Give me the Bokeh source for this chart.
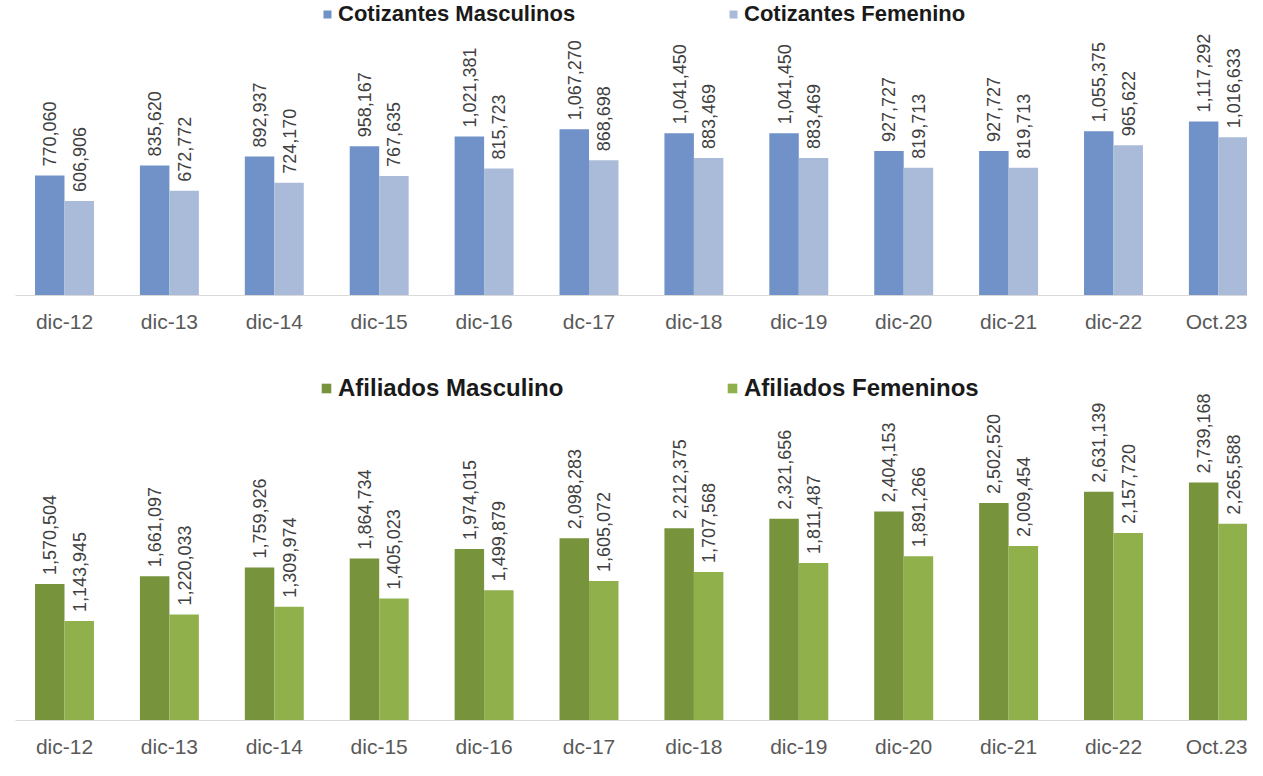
import math
from bokeh.plotting import figure
from bokeh.models import (ColumnDataSource, Range1d, FixedTicker, Legend, LegendItem)
from bokeh.transform import dodge
from bokeh.core.properties import value
from bokeh.layouts import column
from bokeh.embed import file_html
from bokeh.resources import INLINE

# ---------------- data ----------------
categories = ["dic-12", "dic-13", "dic-14", "dic-15", "dic-16", "dc-17",
              "dic-18", "dic-19", "dic-20", "dic-21", "dic-22", "Oct.23"]
cotizantes_masculinos = [770060, 835620, 892937, 958167, 1021381, 1067270,
                         1041450, 1041450, 927727, 927727, 1055375, 1117292]
cotizantes_femenino = [606906, 672772, 724170, 767635, 815723, 868698,
                       883469, 883469, 819713, 819713, 965622, 1016633]
afiliados_masculino = [1570504, 1661097, 1759926, 1864734, 1974015, 2098283,
                       2212375, 2321656, 2404153, 2502520, 2631139, 2739168]
afiliados_femeninos = [1143945, 1220033, 1309974, 1405023, 1499879, 1605072,
                       1707568, 1811487, 1891266, 2009454, 2157720, 2265588]

# ---------------- styling ----------------
FONT = "Liberation Sans"
W = 1247
LEFT = 15
BAR_W = 0.281
OFF = 0.1405
X0, X1 = -0.4671, 11.2774


def make_panel(m_vals, f_vals, m_lab, f_lab, m_col, f_col, height, frame_h,
               y_end, leg_pos1, leg_pos2, leg_font, leg_glyph):
    src = ColumnDataSource(dict(
        x=list(range(len(categories))),
        m=m_vals, f=f_vals,
        m_lbl=[f"{v:,}" for v in m_vals],
        f_lbl=[f"{v:,}" for v in f_vals],
    ))
    p = figure(width=W, height=height, output_backend="svg", toolbar_location=None,
               x_range=Range1d(X0, X1), y_range=Range1d(0, y_end),
               min_border_left=LEFT, min_border_right=0, min_border_top=0,
               min_border_bottom=height - frame_h)
    p.outline_line_color = None
    p.background_fill_color = "white"
    p.border_fill_color = "white"
    p.xgrid.visible = False
    p.ygrid.visible = False
    p.yaxis.visible = False

    r1 = p.vbar(x=dodge("x", -OFF, range=p.x_range), top="m", width=BAR_W,
                source=src, fill_color=m_col, line_color=None)
    r2 = p.vbar(x=dodge("x", OFF, range=p.x_range), top="f", width=BAR_W,
                source=src, fill_color=f_col, line_color=None)

    for col, lbl, off in (("m", "m_lbl", -OFF), ("f", "f_lbl", OFF)):
        p.text(x=dodge("x", off, range=p.x_range), y=col, text=lbl, source=src,
               angle=math.pi / 2, text_align="left", text_baseline="middle",
               y_offset=-9, text_font=value(FONT), text_font_size="18px",
               text_color="#404040")

    ax = p.xaxis[0]
    ax.ticker = FixedTicker(ticks=list(range(len(categories))))
    ax.major_label_overrides = {i: c for i, c in enumerate(categories)}
    ax.major_tick_line_color = None
    ax.minor_tick_line_color = None
    ax.major_tick_out = 0
    ax.major_tick_in = 0
    ax.axis_line_color = "#d9d9d9"
    ax.axis_line_width = 1
    ax.major_label_text_font = FONT
    ax.major_label_text_font_size = "21px"
    ax.major_label_text_color = "#595959"
    ax.major_label_standoff = 14

    for lab, rend, pos in ((m_lab, r1, leg_pos1), (f_lab, r2, leg_pos2)):
        leg = Legend(items=[LegendItem(label=lab, renderers=[rend])],
                     location=pos, orientation="horizontal",
                     padding=0, margin=0, spacing=0,
                     glyph_width=leg_glyph, glyph_height=leg_glyph, label_standoff=6,
                     label_text_font=FONT, label_text_font_size=leg_font,
                     label_text_font_style="bold", label_text_color="#1a1a1a",
                     border_line_color=None, background_fill_alpha=0)
        p.add_layout(leg)
    return p


top = make_panel(cotizantes_masculinos, cotizantes_femenino,
                 "Cotizantes Masculinos", "Cotizantes Femenino",
                 "#7092c8", "#aabbd9", height=352, frame_h=295, y_end=1894700,
                 leg_pos1=(307, 268), leg_pos2=(713, 268),
                 leg_font="22px", leg_glyph=10)

bottom = make_panel(afiliados_masculino, afiliados_femeninos,
                    "Afiliados Masculino", "Afiliados Femeninos",
                    "#77933c", "#90b04c", height=408, frame_h=368, y_end=4235000,
                    leg_pos1=(305, 318), leg_pos2=(711, 318),
                    leg_font="24px", leg_glyph=12)

layout = column(top, bottom, spacing=0)
open("out.html", "w").write(file_html(layout, INLINE))
